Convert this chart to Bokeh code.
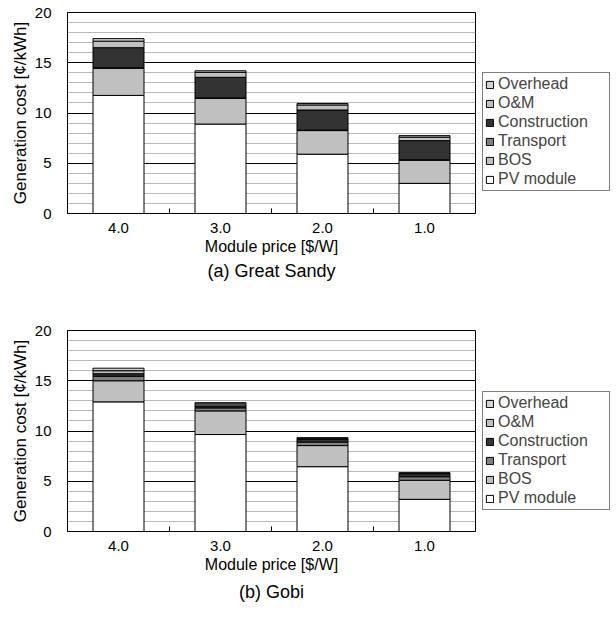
from bokeh.plotting import figure
from bokeh.models import Legend, LegendItem, Title, SingleIntervalTicker, ColumnDataSource
from bokeh.layouts import column
from bokeh.transform import dodge
from bokeh.embed import file_html
from bokeh.resources import INLINE

prices = ["4.0", "3.0", "2.0", "1.0"]
components = ["PV module", "BOS", "Transport", "Construction", "O&M", "Overhead"]

# Great Sandy (¢/kWh)
gs_pv = [11.75, 8.9, 5.9, 3.0]
gs_bos = [2.7, 2.55, 2.35, 2.3]
gs_transport = [0.05, 0.05, 0.05, 0.05]
gs_construction = [2.0, 2.05, 2.0, 1.9]
gs_om = [0.65, 0.5, 0.5, 0.35]
gs_overhead = [0.25, 0.15, 0.15, 0.15]

# Gobi (¢/kWh)
gobi_pv = [12.9, 9.65, 6.45, 3.2]
gobi_bos = [2.1, 2.35, 2.1, 1.9]
gobi_transport = [0.45, 0.3, 0.35, 0.35]
gobi_construction = [0.25, 0.2, 0.3, 0.3]
gobi_om = [0.3, 0.2, 0.08, 0.05]
gobi_overhead = [0.25, 0.12, 0.05, 0.05]

y_ticks_interval = 5
y_max = 20

colors = ["#ffffff", "#c0c0c0", "#808080", "#333333", "#c0c0c0", "#d4d4d4"]
FONT = "Liberation Sans"


def make_panel(series, caption, border_top, border_bottom, legend_y, title_standoff):
    data = {"price": prices}
    for name, vals in zip(components, series):
        data[name] = vals
    src = ColumnDataSource(data)

    p = figure(x_range=prices, y_range=(0, y_max),
               frame_width=408, frame_height=201,
               min_border_left=67, min_border_right=133,
               min_border_top=border_top, min_border_bottom=border_bottom,
               output_backend="svg", toolbar_location=None,
               background_fill_color="white", border_fill_color="white")

    renderers = p.vbar_stack(components, x="price", width=0.5, source=src,
                             fill_color=colors, line_color="black", line_width=1)

    # inner tick marks at category boundaries
    tsrc = ColumnDataSource({"price": prices[:-1], "y0": [0] * 3, "y1": [0.5] * 3})
    p.segment(x0=dodge("price", 0.5, range=p.x_range), x1=dodge("price", 0.5, range=p.x_range),
              y0="y0", y1="y1", source=tsrc, line_color="black", line_width=1)

    p.outline_line_color = "black"
    p.outline_line_width = 1
    p.xgrid.grid_line_color = None

    p.yaxis.ticker = SingleIntervalTicker(interval=y_ticks_interval, num_minor_ticks=5)
    p.ygrid.grid_line_color = "black"
    p.ygrid.grid_line_width = 1
    p.ygrid.minor_grid_line_color = "#b8b8b8"
    p.ygrid.minor_grid_line_width = 1

    for ax in (p.xaxis, p.yaxis):
        ax.axis_line_color = "black"
        ax.major_tick_line_color = None
        ax.minor_tick_line_color = None
        ax.major_label_text_font = FONT
        ax.major_label_text_font_size = "15px"
        ax.major_label_text_color = "black"
        ax.axis_label_text_font = FONT
        ax.axis_label_text_font_size = "16px"
        ax.axis_label_text_font_style = "normal"
        ax.axis_label_text_color = "black"

    p.yaxis.axis_label = "Generation cost [¢/kWh]"
    p.yaxis.axis_label_text_font_size = "17px"
    p.yaxis.major_tick_out = 0
    p.yaxis.major_tick_in = 0
    p.yaxis.major_label_standoff = 12
    p.yaxis.axis_label_standoff = 2
    p.xaxis.axis_label = "Module price [$/W]"
    p.xaxis.major_label_standoff = 3
    p.xaxis.axis_label_standoff = 2

    items = [LegendItem(label=name, renderers=[r]) for name, r in zip(components, renderers)][::-1]
    legend = Legend(items=items, location=(7, legend_y), margin=0,
                    border_line_color="black", border_line_width=1,
                    background_fill_color="white", background_fill_alpha=1,
                    label_text_font=FONT, label_text_font_size="16px",
                    glyph_width=9, glyph_height=9, label_standoff=4,
                    label_height=17, spacing=1, padding=2, label_width=109)
    p.add_layout(legend, "right")

    t = Title(text=caption, align="center", text_font=FONT, text_font_size="18px",
              text_font_style="normal", text_color="black", standoff=title_standoff)
    p.add_layout(t, "below")
    return p


p1 = make_panel([gs_pv, gs_bos, gs_transport, gs_construction, gs_om, gs_overhead],
                "(a) Great Sandy", 12, 94, 22, 3)
p2 = make_panel([gobi_pv, gobi_bos, gobi_transport, gobi_construction, gobi_om, gobi_overhead],
                "(b) Gobi", 23, 84, 21, 8)

layout = column(p1, p2, spacing=0)
open("out.html", "w").write(file_html(layout, INLINE))
